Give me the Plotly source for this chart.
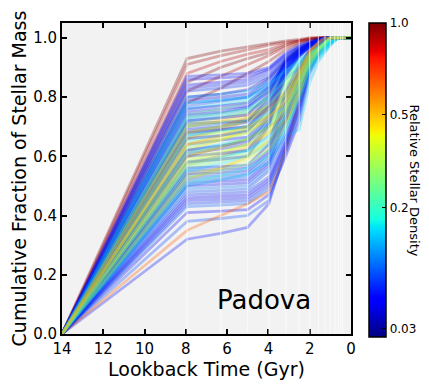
import plotly.graph_objects as go

# Lookback time (Gyr) of the SFH bin edges used as line vertices
LOOKBACK = [14.0, 7.94, 6.31, 5.01, 3.98, 3.16, 2.51, 2.0, 1.58, 1.26, 1.0, 0.63, 0.0]
# faint white lines marking the age bins
BIN_EDGES = [7.94, 6.31, 5.01, 3.98, 3.16, 2.51, 2.0, 1.58, 1.26, 1.0, 0.79, 0.63, 0.5, 0.4]

# relative stellar density of each region (colour)
DENSITY = [
    1.0, 0.95, 0.9, 1.0, 0.92, 0.97,
    0.06, 0.05, 0.07, 0.045, 0.08, 0.06, 0.1, 0.035, 0.05, 0.09, 0.055, 0.07, 0.04,
    0.06, 0.08, 0.05, 0.1, 0.07, 0.06, 0.09, 0.05, 0.08, 0.06,
    0.14, 0.16, 0.13, 0.18, 0.2, 0.15, 0.12, 0.17, 0.14,
    0.25, 0.3, 0.28, 0.35, 0.26, 0.32, 0.4, 0.27, 0.38,
    0.5, 0.55, 0.45, 0.6, 0.5, 0.65, 0.48,
    0.05, 0.065, 0.04, 0.07, 0.05, 0.06, 0.045, 0.08, 0.05, 0.06, 0.05, 0.065,
    0.07, 0.05, 0.09, 0.06, 0.08, 0.05, 0.07,
    0.15, 0.22, 0.33, 0.19, 0.42, 0.24, 0.36, 0.21, 0.3, 0.18,
    0.58, 0.52,
]

# cumulative fraction of stellar mass at each LOOKBACK vertex
CUM_FRAC = [
    [0, .93, .955, .97, .98, .99, .995, 1, 1, 1, 1, 1, 1],
    [0, .91, .94, .96, .975, .985, .99, .995, 1, 1, 1, 1, 1],
    [0, .88, .92, .945, .96, .98, .99, 1, 1, 1, 1, 1, 1],
    [0, .85, .90, .93, .95, .975, .99, .995, 1, 1, 1, 1, 1],
    [0, .82, .87, .91, .94, .97, .985, .995, 1, 1, 1, 1, 1],
    [0, .78, .83, .88, .92, .96, .98, .99, 1, 1, 1, 1, 1],

    [0, .87, .875, .88, .90, .95, .975, .99, .995, 1, 1, 1, 1],
    [0, .84, .85, .86, .89, .94, .97, .985, .995, 1, 1, 1, 1],
    [0, .82, .83, .84, .87, .93, .96, .98, .99, 1, 1, 1, 1],
    [0, .79, .80, .81, .86, .92, .955, .98, .99, 1, 1, 1, 1],
    [0, .77, .785, .80, .84, .91, .95, .975, .99, .995, 1, 1, 1],
    [0, .75, .76, .77, .83, .92, .96, .98, .99, 1, 1, 1, 1],
    [0, .73, .745, .76, .82, .90, .94, .97, .985, .995, 1, 1, 1],
    [0, .71, .715, .72, .80, .93, .965, .985, .995, 1, 1, 1, 1],
    [0, .69, .70, .715, .78, .91, .955, .98, .99, 1, 1, 1, 1],
    [0, .67, .69, .70, .77, .89, .94, .97, .985, .995, 1, 1, 1],
    [0, .64, .655, .665, .74, .90, .95, .975, .99, 1, 1, 1, 1],
    [0, .61, .625, .64, .72, .88, .94, .97, .985, .995, 1, 1, 1],
    [0, .58, .59, .60, .70, .87, .935, .97, .985, 1, 1, 1, 1],

    [0, .55, .555, .56, .62, .80, .90, .96, .98, .99, 1, 1, 1],
    [0, .53, .535, .54, .60, .76, .88, .95, .975, .99, 1, 1, 1],
    [0, .51, .515, .52, .58, .74, .86, .94, .97, .99, 1, 1, 1],
    [0, .49, .495, .50, .56, .70, .83, .93, .965, .985, 1, 1, 1],
    [0, .47, .475, .48, .53, .66, .80, .92, .96, .985, 1, 1, 1],
    [0, .45, .455, .46, .51, .64, .78, .91, .955, .98, 1, 1, 1],
    [0, .43, .435, .44, .49, .62, .75, .90, .95, .98, 1, 1, 1],
    [0, .41, .415, .42, .47, .60, .72, .88, .94, .975, 1, 1, 1],
    [0, .38, .39, .40, .45, .61, .74, .89, .95, .98, 1, 1, 1],
    [0, .32, .34, .36, .44, .63, .76, .90, .95, .98, 1, 1, 1],

    [0, .80, .81, .82, .85, .90, .93, .95, .965, .975, .985, 1, 1],
    [0, .76, .775, .79, .83, .88, .915, .94, .96, .975, .985, 1, 1],
    [0, .72, .735, .75, .80, .86, .90, .93, .955, .97, .985, 1, 1],
    [0, .68, .70, .72, .77, .84, .885, .92, .95, .97, .98, 1, 1],
    [0, .65, .67, .69, .74, .82, .87, .91, .945, .965, .98, 1, 1],
    [0, .62, .64, .66, .71, .80, .86, .90, .94, .96, .98, 1, 1],
    [0, .58, .60, .62, .67, .76, .84, .89, .935, .96, .98, 1, 1],
    [0, .55, .575, .60, .64, .72, .80, .88, .93, .955, .975, 1, 1],
    [0, .50, .52, .54, .58, .67, .69, .85, .92, .95, .975, 1, 1],

    [0, .74, .76, .78, .82, .87, .91, .95, .975, .99, 1, 1, 1],
    [0, .71, .73, .75, .79, .85, .90, .945, .97, .985, 1, 1, 1],
    [0, .68, .70, .72, .76, .82, .88, .94, .97, .985, 1, 1, 1],
    [0, .66, .68, .70, .74, .80, .87, .93, .965, .985, 1, 1, 1],
    [0, .63, .655, .68, .72, .78, .86, .93, .965, .985, 1, 1, 1],
    [0, .60, .63, .655, .70, .77, .85, .92, .96, .98, 1, 1, 1],
    [0, .58, .61, .64, .68, .75, .84, .92, .96, .98, 1, 1, 1],
    [0, .56, .585, .61, .65, .73, .83, .91, .955, .98, 1, 1, 1],
    [0, .54, .56, .59, .63, .71, .82, .91, .955, .98, 1, 1, 1],

    [0, .70, .72, .74, .77, .82, .89, .96, .99, 1, 1, 1, 1],
    [0, .66, .69, .72, .75, .80, .88, .95, .985, 1, 1, 1, 1],
    [0, .62, .655, .69, .72, .76, .86, .95, .985, 1, 1, 1, 1],
    [0, .60, .63, .66, .70, .74, .84, .94, .98, 1, 1, 1, 1],
    [0, .57, .60, .63, .68, .72, .82, .94, .98, 1, 1, 1, 1],
    [0, .35, .40, .44, .48, .62, .78, .92, .97, .99, 1, 1, 1],
    [0, .52, .56, .60, .65, .72, .80, .93, .975, .99, 1, 1, 1],

    [0, .86, .865, .87, .895, .945, .97, .985, .995, 1, 1, 1, 1],
    [0, .83, .84, .85, .88, .935, .965, .98, .99, 1, 1, 1, 1],
    [0, .80, .81, .825, .865, .925, .96, .98, .99, 1, 1, 1, 1],
    [0, .78, .79, .80, .85, .92, .955, .975, .99, 1, 1, 1, 1],
    [0, .76, .77, .78, .835, .915, .95, .975, .99, 1, 1, 1, 1],
    [0, .74, .75, .765, .82, .91, .95, .975, .99, 1, 1, 1, 1],
    [0, .72, .73, .74, .81, .92, .96, .98, .99, 1, 1, 1, 1],
    [0, .70, .71, .72, .79, .90, .95, .975, .99, 1, 1, 1, 1],
    [0, .68, .69, .70, .77, .90, .95, .975, .99, 1, 1, 1, 1],
    [0, .66, .67, .685, .76, .89, .945, .975, .99, 1, 1, 1, 1],
    [0, .62, .635, .65, .73, .89, .945, .97, .985, 1, 1, 1, 1],
    [0, .60, .61, .62, .71, .875, .94, .97, .985, 1, 1, 1, 1],

    [0, .56, .565, .57, .64, .82, .91, .96, .98, .99, 1, 1, 1],
    [0, .54, .545, .55, .61, .78, .89, .955, .975, .99, 1, 1, 1],
    [0, .52, .525, .53, .59, .75, .87, .945, .97, .99, 1, 1, 1],
    [0, .50, .505, .51, .57, .72, .85, .935, .965, .985, 1, 1, 1],
    [0, .48, .485, .49, .55, .68, .82, .925, .96, .985, 1, 1, 1],
    [0, .46, .465, .47, .52, .65, .79, .915, .955, .98, 1, 1, 1],
    [0, .44, .445, .45, .50, .63, .77, .905, .95, .98, 1, 1, 1],

    [0, .78, .79, .80, .84, .89, .92, .945, .965, .975, .985, 1, 1],
    [0, .73, .745, .76, .80, .86, .905, .945, .97, .985, 1, 1, 1],
    [0, .70, .715, .73, .775, .84, .89, .94, .965, .985, 1, 1, 1],
    [0, .67, .685, .70, .75, .81, .875, .935, .965, .985, 1, 1, 1],
    [0, .64, .66, .68, .73, .79, .865, .93, .96, .985, 1, 1, 1],
    [0, .61, .635, .66, .70, .77, .85, .92, .96, .98, 1, 1, 1],
    [0, .59, .615, .64, .69, .76, .845, .92, .96, .98, 1, 1, 1],
    [0, .57, .595, .62, .66, .74, .835, .915, .955, .98, 1, 1, 1],
    [0, .53, .55, .575, .62, .70, .81, .905, .95, .98, 1, 1, 1],
    [0, .51, .535, .56, .60, .69, .79, .90, .95, .975, 1, 1, 1],

    [0, .68, .70, .73, .76, .81, .885, .955, .985, 1, 1, 1, 1],
    [0, .64, .67, .70, .735, .78, .87, .95, .985, 1, 1, 1, 1],
]

CBAR_TICKS = [0.03, 0.2, 0.5, 1.0]
CBAR_LABELS = ['0.03', '0.2', '0.5', '1.0']
DENS_MIN, DENS_MAX = 0.025, 1.0

# matplotlib 'jet' segment data
JET_R = [(0, 0), (0.35, 0), (0.66, 1), (0.89, 1), (1, 0.5)]
JET_G = [(0, 0), (0.125, 0), (0.375, 1), (0.64, 1), (0.91, 0), (1, 0)]
JET_B = [(0, 0.5), (0.11, 1), (0.34, 1), (0.65, 0), (1, 0)]


def _seg(pts, t):
    for (x0, y0), (x1, y1) in zip(pts[:-1], pts[1:]):
        if t <= x1:
            return y0 + (y1 - y0) * (t - x0) / (x1 - x0)
    return pts[-1][1]


def jet(t):
    t = min(max(t, 0.0), 1.0)
    r, g, b = (_seg(p, t) for p in (JET_R, JET_G, JET_B))
    return f"rgb({int(r * 255)},{int(g * 255)},{int(b * 255)})"


def cnorm(d):
    # colour scale is linear in density**(1/3)
    return d ** (1 / 3)


stops = sorted({s for p in (JET_R, JET_G, JET_B) for s, _ in p})
colorscale = [[s, jet(s)] for s in stops]
cmin, cmax = cnorm(DENS_MIN), cnorm(DENS_MAX)

fig = go.Figure()

for d, frac in zip(DENSITY, CUM_FRAC):
    t = (cnorm(d) - cmin) / (cmax - cmin)
    fig.add_trace(go.Scatter(
        x=LOOKBACK, y=frac, mode='lines',
        line=dict(color=jet(t), width=2.8),
        opacity=0.3, showlegend=False, hoverinfo='skip'
    ))

# dummy trace carrying the colour bar
fig.add_trace(go.Scatter(
    x=[None], y=[None], mode='markers', showlegend=False,
    marker=dict(
        color=[cmin], colorscale=colorscale, cmin=cmin, cmax=cmax, showscale=True,
        colorbar=dict(
            x=1.062, xanchor='left', xpad=0, ypad=0, y=0.495, len=1.01, thickness=17,
            outlinewidth=1.5, outlinecolor='black',
            tickvals=[cnorm(v) for v in CBAR_TICKS], ticktext=CBAR_LABELS,
            ticks='inside', ticklen=4, tickcolor='black',
            tickfont=dict(size=12, color='black'),
        ),
    ),
))

for edge in BIN_EDGES:
    fig.add_shape(type='line', xref='x', yref='paper', x0=edge, x1=edge, y0=0, y1=1,
                  line=dict(color='white', width=1.2), opacity=0.6, layer='above')

fig.add_annotation(x=4.2, y=0.115, xref='x', yref='y', text='Padova', showarrow=False,
                   font=dict(size=26, color='black'))
fig.add_annotation(x=1.187, xanchor='left', y=0.495, xref='paper', yref='paper',
                   text='Relative Stellar Density', textangle=90, showarrow=False,
                   font=dict(size=13, color='black'))

axis_style = dict(
    showline=True, linewidth=2, linecolor='black', mirror='allticks',
    ticks='inside', ticklen=5, tickwidth=1.5, tickcolor='black',
    showgrid=False, zeroline=False, tickfont=dict(size=15, color='black'),
)

# page body adds an 8px margin, so the figure is offset 8px right and down
fig.update_layout(
    width=421, height=379,
    margin=dict(l=54, r=78, t=15, b=53, autoexpand=False),
    plot_bgcolor='#f2f2f2', paper_bgcolor='white',
    font=dict(family='DejaVu Sans', color='black'),
    xaxis=dict(range=[14, 0], tickvals=list(range(0, 15, 2)),
               title=dict(text='Lookback Time (Gyr)', font=dict(size=19), standoff=4),
               **axis_style),
    yaxis=dict(range=[0, 1.05], tickvals=[0, 0.2, 0.4, 0.6, 0.8, 1.0], tickformat='.1f',
               title=dict(text='Cumulative Fraction of Stellar Mass', font=dict(size=19), standoff=8),
               **axis_style),
)

fig.write_html("out.html")
